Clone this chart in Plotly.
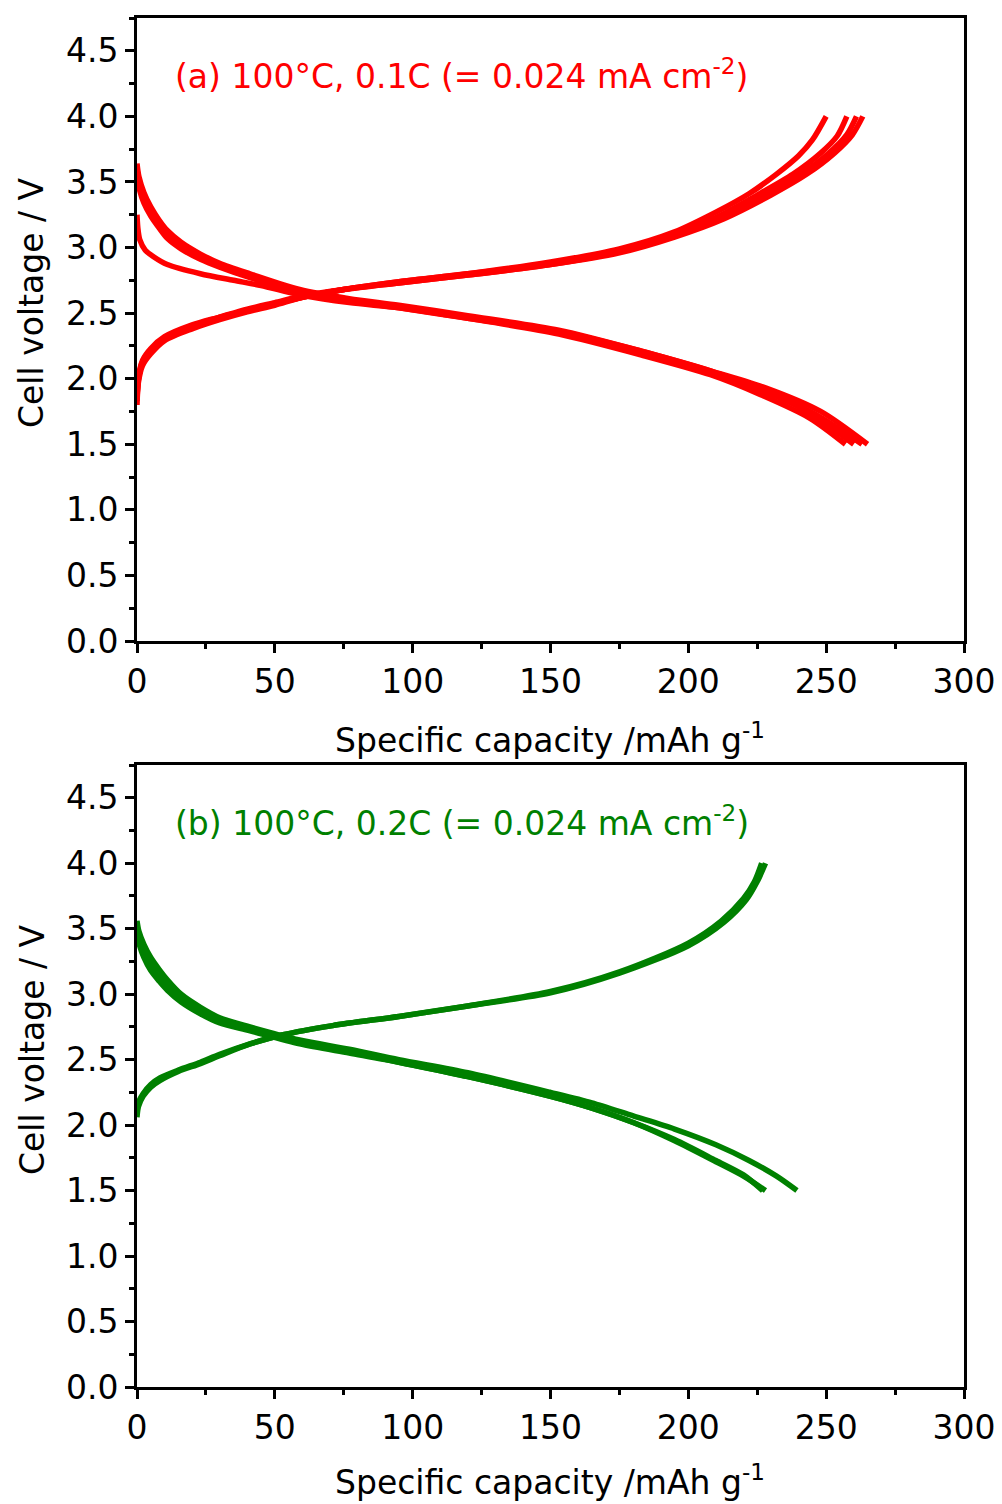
import plotly.graph_objects as go
from plotly.subplots import make_subplots

# ---------------- data (a) red, 100 C, 0.1C ----------------
a_chg1_cap = [0, 0.5, 2, 5, 10, 20, 30, 40, 50, 60, 75, 95, 120, 150, 175, 195, 210, 222, 232, 240, 245, 250]
a_chg1_v = [1.80, 1.97, 2.10, 2.19, 2.29, 2.38, 2.45, 2.51, 2.56, 2.62, 2.68, 2.74, 2.80, 2.89, 2.99, 3.12, 3.27, 3.41, 3.56, 3.70, 3.82, 4.00]
a_chg2_cap = [0, 0.5, 2, 5, 10, 20, 30, 40, 50, 60, 75, 95, 120, 150, 175, 195, 210, 225, 238, 248, 254, 257.5]
a_chg2_v = [1.83, 1.99, 2.12, 2.21, 2.30, 2.39, 2.46, 2.52, 2.57, 2.62, 2.68, 2.74, 2.80, 2.88, 2.98, 3.10, 3.23, 3.40, 3.56, 3.72, 3.85, 4.00]
a_chg3_cap = [0, 0.5, 2, 5, 10, 20, 30, 40, 50, 60, 75, 95, 120, 150, 175, 195, 212, 228, 241, 251, 257.5, 261]
a_chg3_v = [1.85, 2.00, 2.13, 2.22, 2.31, 2.40, 2.47, 2.52, 2.57, 2.62, 2.68, 2.73, 2.79, 2.87, 2.97, 3.09, 3.23, 3.40, 3.56, 3.72, 3.86, 4.00]
a_chg4_cap = [0, 0.5, 2, 5, 10, 20, 30, 40, 50, 60, 75, 95, 120, 150, 175, 195, 213, 230, 243, 253, 259.5, 263.3]
a_chg4_v = [1.86, 2.01, 2.14, 2.23, 2.32, 2.41, 2.47, 2.53, 2.58, 2.63, 2.68, 2.73, 2.79, 2.87, 2.96, 3.08, 3.22, 3.40, 3.56, 3.72, 3.86, 4.00]

a_dis1_cap = [0, 0.3, 1, 3, 6, 11, 23, 35, 45, 59, 77, 95, 120, 153, 183, 208, 226, 244, 257]
a_dis1_v = [3.25, 3.15, 3.06, 2.98, 2.93, 2.87, 2.80, 2.75, 2.71, 2.64, 2.58, 2.54, 2.46, 2.34, 2.18, 2.03, 1.88, 1.70, 1.50]
a_dis2_cap = [0, 0.7, 2.5, 5, 8, 11, 16, 23, 30, 41, 59, 77, 95, 120, 153, 183, 208, 226, 244, 260]
a_dis2_v = [3.64, 3.54, 3.42, 3.31, 3.21, 3.13, 3.04, 2.95, 2.88, 2.80, 2.68, 2.61, 2.56, 2.48, 2.37, 2.21, 2.06, 1.92, 1.74, 1.50]
a_dis3_cap = [0, 0.7, 2.5, 5, 8, 11, 16, 23, 30, 41, 59, 77, 95, 120, 153, 183, 208, 227, 246, 263]
a_dis3_v = [3.60, 3.50, 3.38, 3.27, 3.18, 3.10, 3.01, 2.93, 2.86, 2.78, 2.67, 2.60, 2.55, 2.47, 2.36, 2.20, 2.05, 1.91, 1.73, 1.50]
a_dis4_cap = [0, 0.7, 2.5, 5, 8, 11, 16, 23, 30, 41, 59, 77, 95, 120, 153, 183, 208, 228, 248, 265]
a_dis4_v = [3.56, 3.46, 3.34, 3.24, 3.15, 3.07, 2.99, 2.91, 2.85, 2.77, 2.66, 2.59, 2.54, 2.46, 2.36, 2.21, 2.06, 1.93, 1.75, 1.50]

# ---------------- data (b) green, 100 C, 0.2C ----------------
b_chg1_cap = [0, 0.5, 2.2, 5, 8.3, 15, 23, 30, 41, 53, 71, 95, 120, 150, 175, 200, 212, 220, 224, 226.6]
b_chg1_v = [2.06, 2.14, 2.22, 2.29, 2.34, 2.41, 2.47, 2.53, 2.62, 2.69, 2.76, 2.83, 2.91, 3.02, 3.17, 3.39, 3.56, 3.73, 3.86, 4.00]
b_chg2_cap = [0, 0.5, 2.2, 5, 8.3, 15, 23, 30, 41, 53, 71, 95, 120, 150, 175, 200, 213, 221, 225, 228]
b_chg2_v = [2.09, 2.17, 2.24, 2.31, 2.36, 2.42, 2.48, 2.54, 2.62, 2.69, 2.76, 2.83, 2.91, 3.01, 3.16, 3.37, 3.55, 3.72, 3.86, 4.00]

b_dis1_cap = [0, 0.7, 2.5, 5, 8, 11, 16, 23, 30, 41, 59, 77, 95, 120, 150, 165, 180, 195, 210, 220, 228]
b_dis1_v = [3.52, 3.43, 3.32, 3.22, 3.13, 3.06, 2.96, 2.86, 2.79, 2.73, 2.63, 2.56, 2.48, 2.37, 2.22, 2.13, 2.02, 1.88, 1.72, 1.61, 1.50]
b_dis2_cap = [0, 0.7, 2.5, 5, 8, 11, 16, 23, 30, 41, 59, 77, 95, 120, 150, 165, 180, 195, 210, 222, 232, 239.4]
b_dis2_v = [3.56, 3.48, 3.38, 3.28, 3.19, 3.11, 3.00, 2.90, 2.82, 2.75, 2.65, 2.58, 2.50, 2.40, 2.25, 2.17, 2.07, 1.97, 1.85, 1.73, 1.61, 1.50]
b_dis3_cap = [0, 0.7, 2.5, 5, 8, 11, 16, 23, 30, 41, 59, 77, 95, 120, 150, 165, 180, 195, 210, 220, 227]
b_dis3_v = [3.48, 3.39, 3.28, 3.18, 3.10, 3.03, 2.94, 2.85, 2.78, 2.72, 2.62, 2.55, 2.48, 2.37, 2.22, 2.13, 2.02, 1.89, 1.73, 1.62, 1.50]

x_ticks = [0, 50, 100, 150, 200, 250, 300]
y_ticks = [0.0, 0.5, 1.0, 1.5, 2.0, 2.5, 3.0, 3.5, 4.0, 4.5]

RED = "#ff0000"
GREEN = "#008000"
FONT = "DejaVu Sans, Liberation Sans, Arial, sans-serif"

fig = make_subplots(rows=2, cols=1, vertical_spacing=0.0)

top_curves = [(a_chg1_cap, a_chg1_v), (a_chg2_cap, a_chg2_v), (a_chg3_cap, a_chg3_v), (a_chg4_cap, a_chg4_v),
              (a_dis1_cap, a_dis1_v), (a_dis2_cap, a_dis2_v), (a_dis3_cap, a_dis3_v), (a_dis4_cap, a_dis4_v)]
for cx, cy in top_curves:
    fig.add_trace(go.Scatter(x=cx, y=cy, mode="lines", line=dict(color=RED, width=5.5, shape="spline", smoothing=0.8),
                             showlegend=False, hoverinfo="skip"), row=1, col=1)

bot_curves = [(b_chg1_cap, b_chg1_v), (b_chg2_cap, b_chg2_v), (b_dis1_cap, b_dis1_v), (b_dis2_cap, b_dis2_v),
              (b_dis3_cap, b_dis3_v)]
for cx, cy in bot_curves:
    fig.add_trace(go.Scatter(x=cx, y=cy, mode="lines", line=dict(color=GREEN, width=5.5, shape="spline", smoothing=0.8),
                             showlegend=False, hoverinfo="skip"), row=2, col=1)

W, H = 1002, 1504
ML, MR, MT, MB = 137, 38, 18, 117
PH = H - MT - MB
PW = W - ML - MR

def py(yp):
    return (H - MB - yp) / PH

def px(xp):
    return (xp - ML) / PW

axis_common = dict(showline=True, linecolor="black", linewidth=3, mirror=True, ticks="outside",
                   ticklen=9, tickwidth=3, tickcolor="black", showgrid=False, zeroline=False,
                   tickfont=dict(family=FONT, size=33, color="black"))

for r, dom in [(1, [py(641), py(18)]), (2, [py(1387), py(765)])]:
    fig.update_xaxes(range=[0, 300], tickvals=x_ticks, ticktext=[str(v) for v in x_ticks],
                     minor=dict(dtick=25, tick0=0, ticks="outside", ticklen=5, tickwidth=3, tickcolor="black"),
                     row=r, col=1, **axis_common)
    fig.update_yaxes(range=[0, 4.75], tickvals=y_ticks, ticktext=[f"{v:.1f}" for v in y_ticks],
                     minor=dict(dtick=0.25, tick0=0, ticks="outside", ticklen=5, tickwidth=3, tickcolor="black"),
                     domain=dom, row=r, col=1, **axis_common)

ann = []
tfont = dict(family=FONT, size=33, color="black")
ann.append(dict(text="Specific capacity /mAh g<sup>-1</sup>", x=px(550), y=py(738), xref="paper", yref="paper",
                showarrow=False, font=tfont, xanchor="center", yanchor="middle"))
ann.append(dict(text="Specific capacity /mAh g<sup>-1</sup>", x=px(550), y=py(1480), xref="paper", yref="paper",
                showarrow=False, font=tfont, xanchor="center", yanchor="middle"))
ann.append(dict(text="Cell voltage / V", x=px(32), y=py(303), xref="paper", yref="paper", textangle=-90,
                showarrow=False, font=tfont, xanchor="center", yanchor="middle"))
ann.append(dict(text="Cell voltage / V", x=px(32), y=py(1050), xref="paper", yref="paper", textangle=-90,
                showarrow=False, font=tfont, xanchor="center", yanchor="middle"))
ann.append(dict(text="(a) 100°C, 0.1C (= 0.024 mA cm<sup>-2</sup>)", x=px(173), y=py(75), xref="paper", yref="paper",
                showarrow=False, font=dict(family=FONT, size=33, color=RED), xanchor="left", yanchor="middle"))
ann.append(dict(text="(b) 100°C, 0.2C (= 0.024 mA cm<sup>-2</sup>)", x=px(173), y=py(822), xref="paper", yref="paper",
                showarrow=False, font=dict(family=FONT, size=33, color=GREEN), xanchor="left", yanchor="middle"))

fig.update_layout(width=W, height=H, margin=dict(l=ML, r=MR, t=MT, b=MB, autoexpand=False),
                  paper_bgcolor="white", plot_bgcolor="white", annotations=ann,
                  font=dict(family=FONT, color="black"))

fig.write_html("out.html", config={"displayModeBar": False})
